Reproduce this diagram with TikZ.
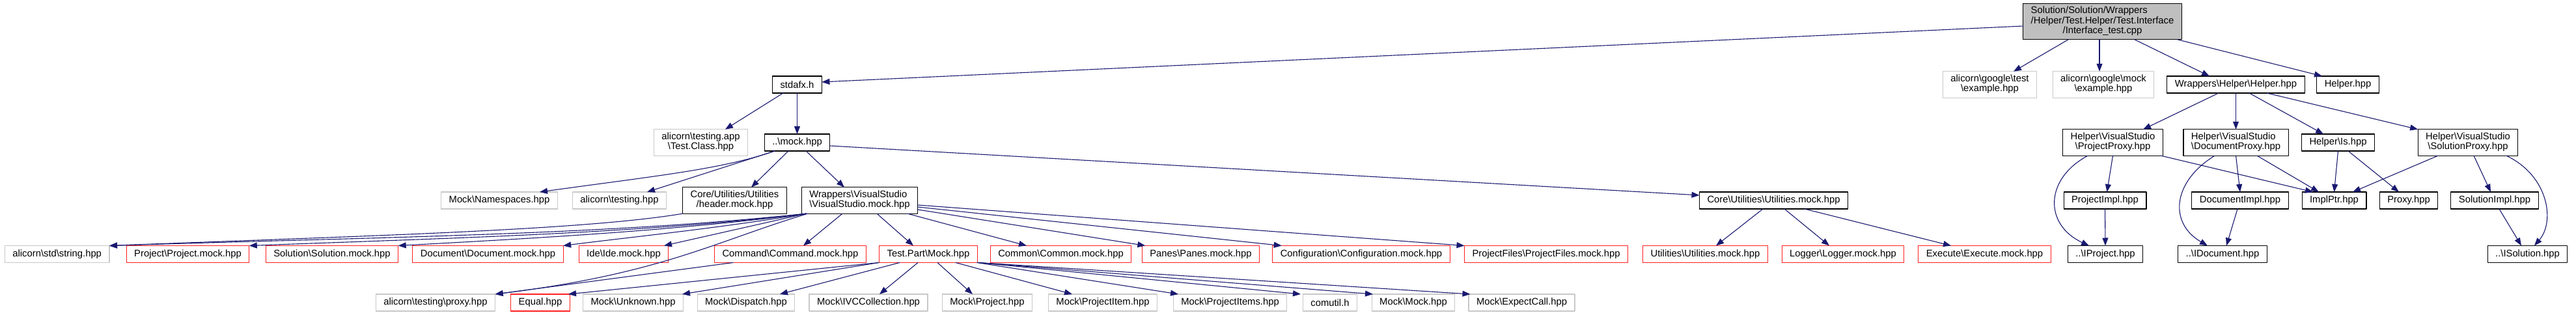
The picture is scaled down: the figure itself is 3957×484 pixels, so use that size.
\documentclass[tikz,border=0pt]{standalone}
\usepackage{fontspec}
\setmainfont{Liberation Sans}
\usetikzlibrary{arrows.meta,calc}
\definecolor{edgeblue}{HTML}{191970}
\definecolor{rootgray}{HTML}{BFBFBF}
\definecolor{extgray}{HTML}{C8C8C8}
\definecolor{cutred}{HTML}{FF2020}
\newcommand{\bsl}{\textbackslash}
\newcommand{\twoln}[2]{\begin{tabular}{@{}l@{}}#1\\\multicolumn{1}{@{}c@{}}{#2}\end{tabular}}
\tikzset{
    every picture/.style={line cap=round,line join=round},
    incfile/.style={draw,fill=white,line width=1.1pt,inner xsep=12pt,inner ysep=5pt,
      minimum height=26pt,outer sep=0pt},
    docfile/.style={incfile,draw=black},
    extfile/.style={incfile,draw=extgray},
    cutfile/.style={incfile,draw=cutred},
    rootfile/.style={incfile,draw=black,fill=rootgray},
    incarrow/.style={-{Triangle[length=12pt,width=9pt]},draw=edgeblue,
      line width=1.1pt}
}

\begin{document}
\begin{tikzpicture}[x=1pt,y=-1pt,font=\fontsize{14.8}{15}\selectfont]
  \useasboundingbox (0,0) rectangle (3957,484);
  % top
  \node[rootfile] (root) at (3229.5,33)
    {\twoln{Solution/Solution/Wrappers\\/Helper/Test.Helper/Test.Interface}{/Interface\_test.cpp}};
  \node[docfile] (stdafx) at (1224.5,130) {stdafx.h};
  \node[extfile] (gtest) at (3056.5,130) {\twoln{alicorn\bsl google\bsl test}{\bsl example.hpp}};
  \node[extfile] (gmock) at (3231,130) {\twoln{alicorn\bsl google\bsl mock}{\bsl example.hpp}};
  \node[docfile] (whelper) at (3434.5,130) {Wrappers\bsl Helper\bsl Helper.hpp};
  \node[docfile] (helper) at (3606.5,130) {Helper.hpp};
  % second row
  \node[extfile] (testclass) at (1076.5,219) {\twoln{alicorn\bsl testing.app}{\bsl Test.Class.hpp}};
  \node[docfile] (mock) at (1224.5,219) {..\bsl mock.hpp};
  \node[docfile] (pproxy) at (3245.5,219) {\twoln{Helper\bsl VisualStudio}{\bsl ProjectProxy.hpp}};
  \node[docfile] (dproxy) at (3434.5,219) {\twoln{Helper\bsl VisualStudio}{\bsl DocumentProxy.hpp}};
  \node[docfile] (isfile) at (3591.5,219) {Helper\bsl Is.hpp};
  \node[docfile] (sproxy) at (3791,219) {\twoln{Helper\bsl VisualStudio}{\bsl SolutionProxy.hpp}};
  % third row
  \node[extfile] (nspace) at (767,308) {Mock\bsl Namespaces.hpp};
  \node[extfile] (testing) at (951.5,308) {alicorn\bsl testing.hpp};
  \node[docfile] (hdrmock) at (1128.5,308) {\twoln{Core/Utilities/Utilities}{/header.mock.hpp}};
  \node[docfile] (vsmock) at (1320.5,308) {\twoln{Wrappers\bsl VisualStudio}{\bsl VisualStudio.mock.hpp}};
  \node[docfile] (coreutil) at (2724.5,308) {Core\bsl Utilities\bsl Utilities.mock.hpp};
  \node[docfile] (pimpl) at (3233.5,308) {ProjectImpl.hpp};
  \node[docfile] (dimpl) at (3441,308) {DocumentImpl.hpp};
  \node[docfile] (implptr) at (3585.5,308) {ImplPtr.hpp};
  \node[docfile] (proxy) at (3700,308) {Proxy.hpp};
  \node[docfile] (simpl) at (3832,308) {SolutionImpl.hpp};
  % fourth row
  \node[extfile] (string) at (87.7,390.5) {alicorn\bsl std\bsl string.hpp};
  \foreach \n/\x/\t in {projmock/288.5/Project\bsl Project.mock.hpp,
      solmock/510/Solution\bsl Solution.mock.hpp,
      docmock/749.5/Document\bsl Document.mock.hpp,
      idemock/958/Ide\bsl Ide.mock.hpp,
      cmdmock/1214/Command\bsl Command.mock.hpp,
      tpart/1426/Test.Part\bsl Mock.hpp,
      common/1629.5/Common\bsl Common.mock.hpp,
      panes/1844.5/Panes\bsl Panes.mock.hpp,
      config/2091/Configuration\bsl Configuration.mock.hpp,
      pfiles/2375/ProjectFiles\bsl ProjectFiles.mock.hpp,
      utilmock/2619.5/Utilities\bsl Utilities.mock.hpp,
      logger/2831/Logger\bsl Logger.mock.hpp,
      execute/3048.5/Execute\bsl Execute.mock.hpp}
    \node[cutfile] (\n) at (\x,390.5) {\t};
  \node[docfile] (iproject) at (3234,390.5) {..\bsl IProject.hpp};
  \node[docfile] (idoc) at (3414,390.5) {..\bsl IDocument.hpp};
  \node[docfile] (isol) at (3882.5,390.5) {..\bsl ISolution.hpp};
  % bottom row
  \node[extfile] (tproxy) at (669,465) {alicorn\bsl testing\bsl proxy.hpp};
  \node[cutfile] (equal) at (830,465) {Equal.hpp};
  \foreach \n/\x/\t in {unknown/972.5/Mock\bsl Unknown.hpp,
      dispatch/1146/Mock\bsl Dispatch.hpp,
      ivc/1334/Mock\bsl IVCCollection.hpp,
      mproject/1516.5/Mock\bsl Project.hpp,
      pitem/1694/Mock\bsl ProjectItem.hpp,
      pitems/1889.5/Mock\bsl ProjectItems.hpp,
      comutil/2043/comutil.h,
      mmock/2171/Mock\bsl Mock.hpp,
      expect/2337.5/Mock\bsl ExpectCall.hpp}
    \node[extfile] (\n) at (\x,465) {\t};

  % edges from the root file
  \draw[incarrow] ([yshift=-7pt]root.west) -- ([yshift=4pt]stdafx.east);
  \draw[incarrow] ([xshift=-52.5pt]root.south) -- ([xshift=36.5pt]gtest.north);
  \draw[incarrow] ([xshift=-4.5pt]root.south) -- ([xshift=-6pt]gmock.north);
  \draw[incarrow] ([xshift=49.5pt]root.south) -- ([xshift=-40.5pt]whelper.north);
  \draw[incarrow] ([xshift=115.5pt]root.south) -- ([xshift=-39.5pt]helper.north);
  % stdafx and mock
  \draw[incarrow] ([xshift=-21.5pt]stdafx.south) -- ([xshift=37.5pt]testclass.north);
  \draw[incarrow] (stdafx.south) -- (mock.north);
  \draw[incarrow] ([xshift=-34.5pt]mock.south) .. controls +(-80,28) and +(180,-25) .. ([xshift=62pt]nspace.north);
  \draw[incarrow] ([xshift=-34.5pt]mock.south) -- ([xshift=42.5pt]testing.north);
  \draw[incarrow] ([xshift=-13.5pt]mock.south) -- ([xshift=25.5pt]hdrmock.north);
  \draw[incarrow] ([xshift=13.5pt]mock.south) -- ([xshift=-23.5pt]vsmock.north);
  \draw[incarrow] ([yshift=-5pt]mock.east) -- ([yshift=8pt]coreutil.west);
  \draw[incarrow] (hdrmock.south west) .. controls +(-150,25) and +(420,-16) .. (string.north east);
  % visual studio mock
  \draw[incarrow] ([xshift=7pt]vsmock.south west) .. controls +(-300,32) and +(450,-14) .. (string.north east);
  \draw[incarrow] ([xshift=7pt]vsmock.south west) .. controls +(-250,30) and +(320,-12) .. (projmock.north east);
  \draw[incarrow] ([xshift=7pt]vsmock.south west) .. controls +(-200,26) and +(220,-12) .. (solmock.north east);
  \draw[incarrow] ([xshift=7pt]vsmock.south west) .. controls +(-130,22) and +(110,-14) .. (docmock.north east);
  \draw[incarrow] ([xshift=7pt]vsmock.south west) -- ([xshift=62pt]idemock.north);
  \draw[incarrow] ([xshift=-79.5pt]vsmock.south) .. controls +(-141,42) and +(257.5,-32) .. (tproxy.north east);
  \draw[incarrow] ([xshift=-26.5pt]vsmock.south) -- ([xshift=20pt]cmdmock.north);
  \draw[incarrow] ([xshift=26.5pt]vsmock.south) -- ([xshift=-23pt]tpart.north);
  \draw[incarrow] ([xshift=73.5pt]vsmock.south) -- ([xshift=-52.5pt]common.north);
  \draw[incarrow] ([yshift=-14pt]vsmock.east) -- ([xshift=5pt]panes.north west);
  \draw[incarrow] ([yshift=-10pt]vsmock.east) -- ([xshift=14pt]config.north west);
  \draw[incarrow] ([yshift=-7pt]vsmock.east) -- (pfiles.north west);
  \draw[incarrow] ([xshift=-88pt]cmdmock.south) -- (tproxy.north east);
  % test part mock
  \foreach \t/\a/\b in {equal/-76/43,unknown/-76/75.5,dispatch/-44/52,ivc/-16/17,
      mproject/14/-22.5,pitem/42/-47,pitems/75/-79.5,comutil/77/-45,
      mmock/77/-62,expect/77/-79}
    \draw[incarrow] ([xshift=\a pt]tpart.south) -- ([xshift=\b pt]\t.north);
  % core utilities
  \draw[incarrow] ([xshift=-16.5pt]coreutil.south) -- ([xshift=16.5pt]utilmock.north);
  \draw[incarrow] ([xshift=16.5pt]coreutil.south) -- ([xshift=-21pt]logger.north);
  \draw[incarrow] ([xshift=47.5pt]coreutil.south) -- ([xshift=-51.5pt]execute.north);
  % helper side
  \draw[incarrow] ([xshift=-26.5pt]whelper.south) -- ([xshift=46.5pt]pproxy.north);
  \draw[incarrow] (whelper.south) -- (dproxy.north);
  \draw[incarrow] ([xshift=20.5pt]whelper.south) -- ([xshift=-22.5pt]isfile.north);
  \draw[incarrow] ([xshift=47.5pt]whelper.south) -- (sproxy.north west);
  \draw[incarrow] (pproxy.south) -- ([xshift=3pt]pimpl.north);
  \draw[incarrow] ([xshift=-38.5pt]pproxy.south) .. controls +(-67,36) and +(-69,-32) .. ([xshift=-25pt]iproject.north);
  \draw[incarrow] ([xshift=74pt]pproxy.south) -- ([xshift=-32.5pt]implptr.north);
  \draw[incarrow] (pimpl.south) -- (iproject.north);
  \draw[incarrow] (dproxy.south) -- (dimpl.north);
  \draw[incarrow] ([xshift=-32.5pt]dproxy.south) .. controls +(-65,40) and +(-60,-35) .. ([xshift=-23pt]idoc.north);
  \draw[incarrow] ([xshift=32.5pt]dproxy.south) -- ([xshift=-23.5pt]implptr.north);
  \draw[incarrow] ([xshift=-4pt]dimpl.south) -- ([xshift=6pt]idoc.north);
  \draw[incarrow] (isfile.south) -- (implptr.north);
  \draw[incarrow] ([xshift=15.5pt]isfile.south) -- ([xshift=-15pt]proxy.north);
  \draw[incarrow] ([xshift=-46pt]sproxy.south) -- ([xshift=28.5pt]implptr.north);
  \draw[incarrow] ([xshift=9pt]sproxy.south) -- ([xshift=-6pt]simpl.north);
  \draw[incarrow] ([xshift=59pt]sproxy.south) .. controls +(65,31) and +(32,-37) .. ([xshift=10.5pt]isol.north);
  \draw[incarrow] ([xshift=7pt]simpl.south) -- ([xshift=-9.5pt]isol.north);
\end{tikzpicture}
\end{document}
